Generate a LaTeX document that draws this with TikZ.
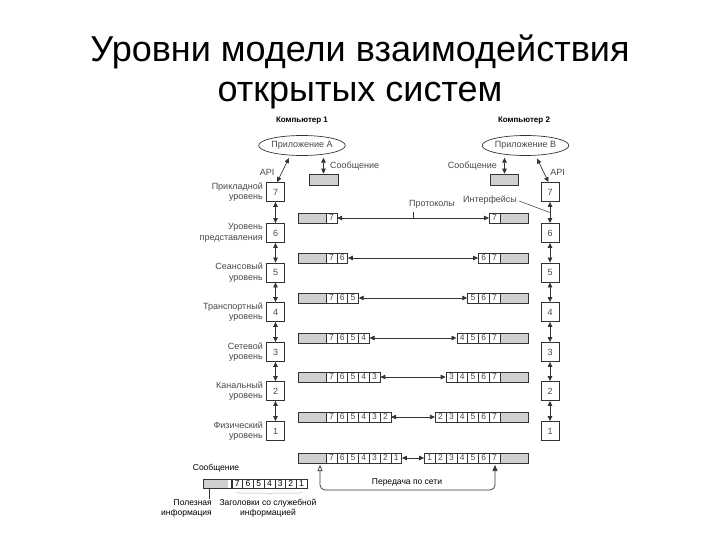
\documentclass[tikz,border=0pt]{standalone}
\usepackage{fontspec}
\setmainfont{Liberation Sans}
\usetikzlibrary{arrows.meta,decorations.pathreplacing,shapes.geometric,calc}
\definecolor{ln}{HTML}{333333}
\definecolor{tx}{HTML}{484848}
\definecolor{gf}{HTML}{D0D0D0}
\begin{document}
\begin{tikzpicture}[x=1pt,y=-1pt,
  lbl/.style={font=\fontsize{9}{10.5}\selectfont, text=tx, inner sep=0pt},
  blk/.style={font=\fontsize{8.5}{10}\selectfont, inner sep=0pt, text=black},
  layerbox/.style={draw=ln, line width=0.8pt, minimum width=18pt, minimum height=19pt, inner sep=0pt, font=\fontsize{9}{10}\selectfont, text=tx},
  cell/.style={draw=ln, line width=0.6pt, minimum width=10.8pt, minimum height=10pt, inner sep=0pt, font=\fontsize{8.5}{9}\selectfont, text=tx},
  graycell/.style={cell, fill=gf, minimum width=28pt},
  app/.style={ellipse, draw=ln, line width=0.7pt, minimum width=71pt, minimum height=20pt, inner sep=0pt, lbl},
  dbl/.style={{Triangle[length=5pt,width=4.5pt]}-{Triangle[length=5pt,width=4.5pt]}, draw=ln, line width=0.7pt},
  thinln/.style={draw=ln, line width=0.5pt},
]
\useasboundingbox (0,0) rectangle (720,540);
% title
\node[font=\fontsize{36}{40}\selectfont, anchor=base, inner sep=0pt] (t1) at (360,62) {Уровни модели взаимодействия};
\node[font=\fontsize{36}{40}\selectfont, anchor=base, inner sep=0pt] (t2) at (360,102) {открытых систем};

% computers
\node[font=\bfseries\fontsize{8}{9}\selectfont, inner sep=0pt] (c1) at (302,121) {Компьютер 1};
\node[font=\bfseries\fontsize{8}{9}\selectfont, inner sep=0pt] (c2) at (524,121) {Компьютер 2};
\node[app] (appA) at (302,145.5) {Приложение А};
\node[app] (appB) at (525.5,145.5) {Приложение В};

% layer boxes
\foreach \l/\y in {7/192,6/233,5/272.5,4/312,3/352,2/391,1/431} {
  \node[layerbox] (bl\l) at (275.5,\y) {\l};
  \node[layerbox] (br\l) at (550,\y) {\l};
}
\foreach \a/\b in {7/6,6/5,5/4,4/3,3/2,2/1} {
  \draw[dbl] (bl\a.south) -- (bl\b.north);
  \draw[dbl] (br\a.south) -- (br\b.north);
}
% layer labels
\node[lbl, align=right, anchor=east] (n7) at (263,192) {Прикладной\\уровень};
\node[lbl, align=right, anchor=east] (n6) at (263,233) {Уровень\\представления};
\node[lbl, align=right, anchor=east] (n5) at (263,272.5) {Сеансовый\\уровень};
\node[lbl, align=right, anchor=east] (n4) at (263,312) {Транспортный\\уровень};
\node[lbl, align=right, anchor=east] (n3) at (263,352) {Сетевой\\уровень};
\node[lbl, align=right, anchor=east] (n2) at (263,391) {Канальный\\уровень};
\node[lbl, align=right, anchor=east] (n1) at (263,431) {Физический\\уровень};

% API
\node[lbl] (apiA) at (267,172) {API};
\node[lbl] (apiB) at (557.5,172) {API};
\draw[dbl] ([shift={(-13,12.5)}]appA.center) -- ([shift={(1.5,0)}]bl7.north);
\draw[dbl] ([shift={(11.5,13)}]appB.center) -- ([shift={(-1.5,0)}]br7.north);

% messages
\node[draw=ln, fill=gf, line width=0.6pt, minimum width=29pt, minimum height=11pt, inner sep=0pt] (mA) at (323.5,179.5) {};
\node[draw=ln, fill=gf, line width=0.6pt, minimum width=28pt, minimum height=11pt, inner sep=0pt] (mB) at (504.5,179.5) {};
\draw[dbl] ([shift={(0,-16)}]mA.north) -- (mA.north);
\draw[dbl] ([shift={(0,-16)}]mB.north) -- (mB.north);
\node[lbl, anchor=west] (sA) at (330,166) {Сообщение};
\node[lbl, anchor=east] (sB) at (497,166) {Сообщение};

% packets
\foreach \r/\y in {7/218,6/258,5/298,4/338,3/377,2/417,1/458} {
  \node[graycell] (pl\r-g) at (312,\y) {};
  \node[graycell] (pr\r-g) at (514,\y) {};
  \foreach \L in {7,...,\r} {
    \node[cell] (pl\r-\L) at ({326+(7-\L+0.5)*10.8},\y) {\L};
    \node[cell] (pr\r-\L) at ({500-(7-\L+0.5)*10.8},\y) {\L};
  }
  \draw[dbl] (pl\r-\r.east) -- (pr\r-\r.west);
}

% protocols / interfaces
\node[lbl] (prot) at (432,204) {Протоколы};
\draw[thinln] ([shift={(-19,4)}]prot.south) -- ([shift={(-19,0)}]prot.south |- pl7-7.center);
\node[lbl] (intf) at (490,200) {Интерфейсы};
\draw[thinln] ([shift={(2,1)}]intf.east) -- ($(br7.south)!0.5!(br6.north)$);

% network transmission
\coordinate (nl) at (320,465);
\coordinate (nr) at (495,465);
\draw[draw=ln, line width=0.7pt, rounded corners=5pt, {Triangle[open,length=6pt,width=5pt]}-{Triangle[length=6pt,width=5pt]}] (nl) -- ++(0,25) -| (nr);
\node[blk] (net) at (407,482) {Передача по сети};

% legend
\node[blk] (lsoob) at (216,468) {Сообщение};
\node[fill=gf, minimum width=25pt, minimum height=9pt, inner sep=0pt] (lmg) at (215.5,483.5) {};
\node[draw=ln, line width=0.6pt, minimum width=104pt, minimum height=9pt, inner sep=0pt] (lm) at (255,483.5) {};
\foreach \L [count=\i] in {7,...,1} {
  \node[cell, minimum width=10.7pt, minimum height=9pt, text=black] (lc\L) at ({232+(\i-0.5)*10.7},483.5) {\L};
}
\draw[draw=ln, line width=1.4pt] (lc7.north west) -- (lc7.south west);
\draw[thinln] ([shift={(-6.5,0)}]lmg.south) -- ++(0,11);
\draw[draw=gray!60, line width=0.5pt, decorate, decoration={brace, amplitude=2.5pt, mirror}] ([shift={(5,3.5)}]lc7.south west) -- ([shift={(-5,3.5)}]lc1.south east);
\node[blk, align=right, anchor=north east] (lpol) at (212,499) {Полезная\\информация};
\node[blk, align=center, anchor=north] (lzag) at (268,499) {Заголовки со служебной\\информацией};
\end{tikzpicture}
\end{document}
